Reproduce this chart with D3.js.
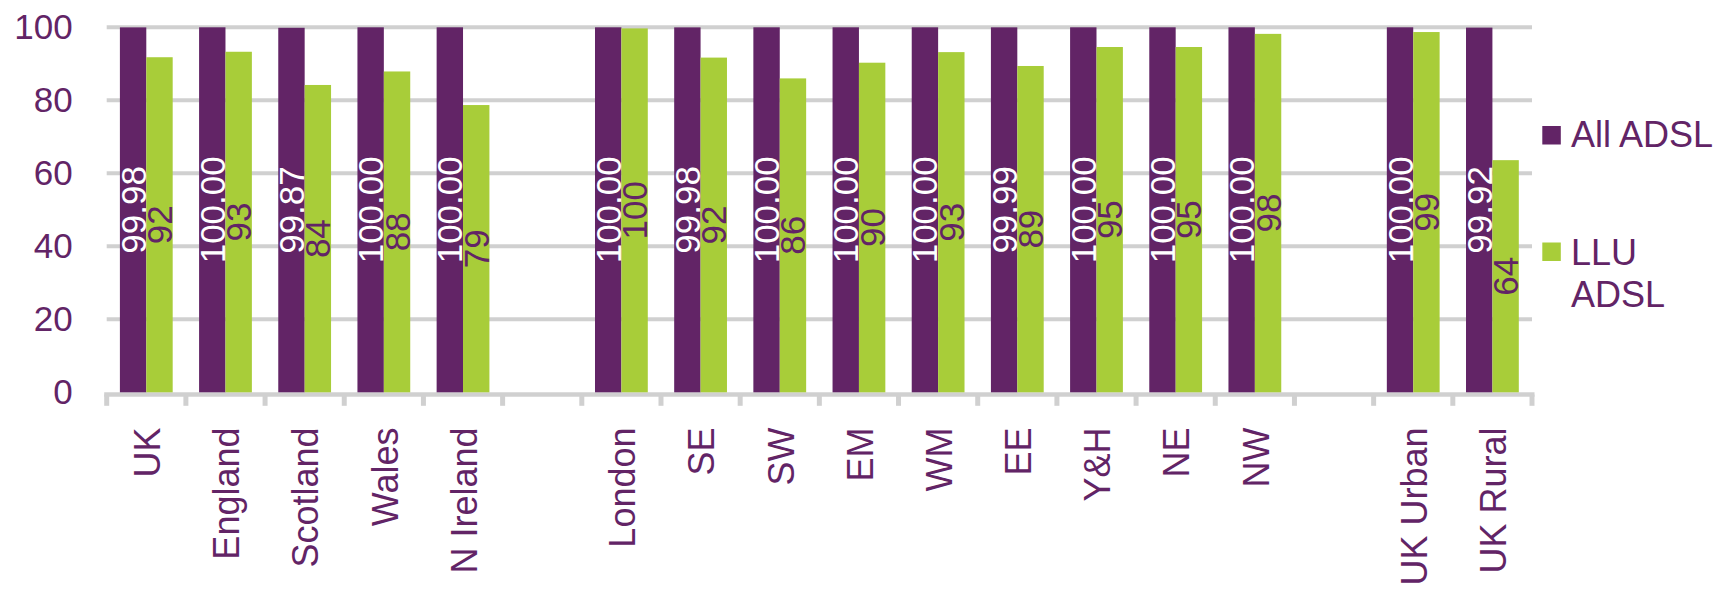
<!DOCTYPE html>
<html>
<head>
<meta charset="utf-8">
<script src="https://cdn.jsdelivr.net/npm/d3@7"></script>
<style>
  html, body { margin: 0; padding: 0; background: #ffffff; }
  svg { display: block; font-family: "Liberation Sans", Arial, sans-serif; }
</style>
</head>
<body>
<svg id="chart" width="1719" height="589"></svg>
<script>
// ---- data ----
const categories = ["UK", "England", "Scotland", "Wales", "N Ireland", "",
  "London", "SE", "SW", "EM", "WM", "EE", "Y&H", "NE", "NW", "",
  "UK Urban", "UK Rural"];
const seriesNames = ["All ADSL", "LLU ADSL"];
const allADSL = [99.98, 100.00, 99.87, 100.00, 100.00, null,
  100.00, 99.98, 100.00, 100.00, 100.00, 99.99, 100.00, 100.00, 100.00, null,
  100.00, 99.92];
const lluADSL = [91.8, 93.3, 84.2, 87.9, 78.7, null,
  99.7, 91.7, 86.0, 90.3, 93.2, 89.4, 94.6, 94.6, 98.2, null,
  98.7, 63.6];
const yTicks = [0, 20, 40, 60, 80, 100];

// ---- styles ----
const PURPLE = "#622466";
const GREEN = "#A8CD39";
const GRID = "#D0D0D0";

const svg = d3.select("#chart");
const plotLeft = 106.7, plotRight = 1532, plotTop = 27.3, plotBottom = 392.3;

const x = d3.scaleBand().domain(d3.range(categories.length)).range([plotLeft, plotRight]).paddingInner(0).paddingOuter(0);
const xs = d3.scaleBand().domain(seriesNames).range([0, x.bandwidth()]).paddingInner(0).paddingOuter(0.5);
const y = d3.scaleLinear().domain([0, 100]).range([plotBottom, plotTop]);

// gridlines
svg.append("g").selectAll("line").data(yTicks.filter(d => d > 0)).join("line")
  .attr("x1", plotLeft).attr("x2", plotRight)
  .attr("y1", d => y(d)).attr("y2", d => y(d))
  .attr("stroke", GRID).attr("stroke-width", 4);

// x axis line + ticks
const xAxisG = svg.append("g").attr("transform", `translate(0,${plotBottom + 2.2})`);
xAxisG.append("line").attr("x1", plotLeft - 2.5).attr("x2", plotRight + 2.5).attr("y1", 0).attr("y2", 0)
  .attr("stroke", GRID).attr("stroke-width", 4.4);
const boundaries = d3.range(categories.length + 1).map(i => i < categories.length ? x(i) : x(categories.length - 1) + x.bandwidth());
xAxisG.selectAll("line.tick").data(boundaries).join("line").attr("class", "tick")
  .attr("x1", d => d).attr("x2", d => d).attr("y1", 0).attr("y2", 11.3)
  .attr("stroke", GRID).attr("stroke-width", 5);

// y axis labels via d3 axis
const yAxis = d3.axisLeft(y).tickValues(yTicks).tickSize(0).tickPadding(0);
const yG = svg.append("g").attr("transform", "translate(72.7,0)").call(yAxis);
yG.select(".domain").remove();
yG.selectAll("text").attr("fill", PURPLE).attr("font-size", 35)
  .attr("font-family", "'Liberation Sans', Arial, sans-serif").attr("dy", "0.33em").attr("x", 0);

// bars
const rows = categories.map((c, i) => ({ i, c, vals: [allADSL[i], lluADSL[i]] }));
const groups = svg.append("g").selectAll("g").data(rows.filter(r => r.vals[0] != null)).join("g")
  .attr("transform", d => `translate(${x(d.i)},0)`);
const colors = [PURPLE, GREEN];
groups.selectAll("rect").data(d => d.vals.map((v, k) => ({ v, k }))).join("rect")
  .attr("x", d => xs(seriesNames[d.k]))
  .attr("width", xs.bandwidth())
  .attr("y", d => y(d.v))
  .attr("height", d => y(0) - y(d.v))
  .attr("fill", d => colors[d.k]);

// data labels
const fmt = [d3.format(".2f"), d3.format(".0f")];
const labelColors = ["#ffffff", PURPLE];
const LFS = 35;
groups.selectAll("text").data(d => d.vals.map((v, k) => ({ v, k }))).join("text")
  .attr("transform", d => {
    const cx = xs(seriesNames[d.k]) + xs.bandwidth() / 2 + LFS * 0.716 / 2;
    const cy = (y(d.v) + y(0)) / 2;
    return `translate(${cx},${cy}) rotate(-90)`;
  })
  .attr("text-anchor", "middle")
  .attr("font-size", LFS)
  .attr("fill", d => labelColors[d.k])
  .text(d => fmt[d.k](d.v));

// x labels (rotated)
const XFS = 36;
svg.append("g").selectAll("text").data(rows.filter(r => r.c !== "")).join("text")
  .attr("transform", d => `translate(${x(d.i) + x.bandwidth() / 2 + 13.8},427.5) rotate(-90)`)
  .attr("text-anchor", "end")
  .attr("font-size", XFS)
  .attr("fill", PURPLE)
  .text(d => d.c);

// legend
const legend = [
  { name: seriesNames[0], lines: ["All ADSL"], color: PURPLE, sqY: 126, base: 146.7 },
  { name: seriesNames[1], lines: ["LLU", "ADSL"], color: GREEN, sqY: 242.5, base: 265 }
];
const lg = svg.append("g").selectAll("g").data(legend).join("g");
lg.append("rect").attr("x", 1542.3).attr("y", d => d.sqY).attr("width", 18.5).attr("height", 18.5).attr("fill", d => d.color);
lg.append("text").attr("x", 1571).attr("y", d => d.base).attr("font-size", 36).attr("fill", PURPLE)
  .selectAll("tspan").data(d => d.lines).join("tspan")
  .attr("x", 1571).attr("dy", (d, k) => k === 0 ? 0 : 42.3).text(d => d);
</script>
</body>
</html>
